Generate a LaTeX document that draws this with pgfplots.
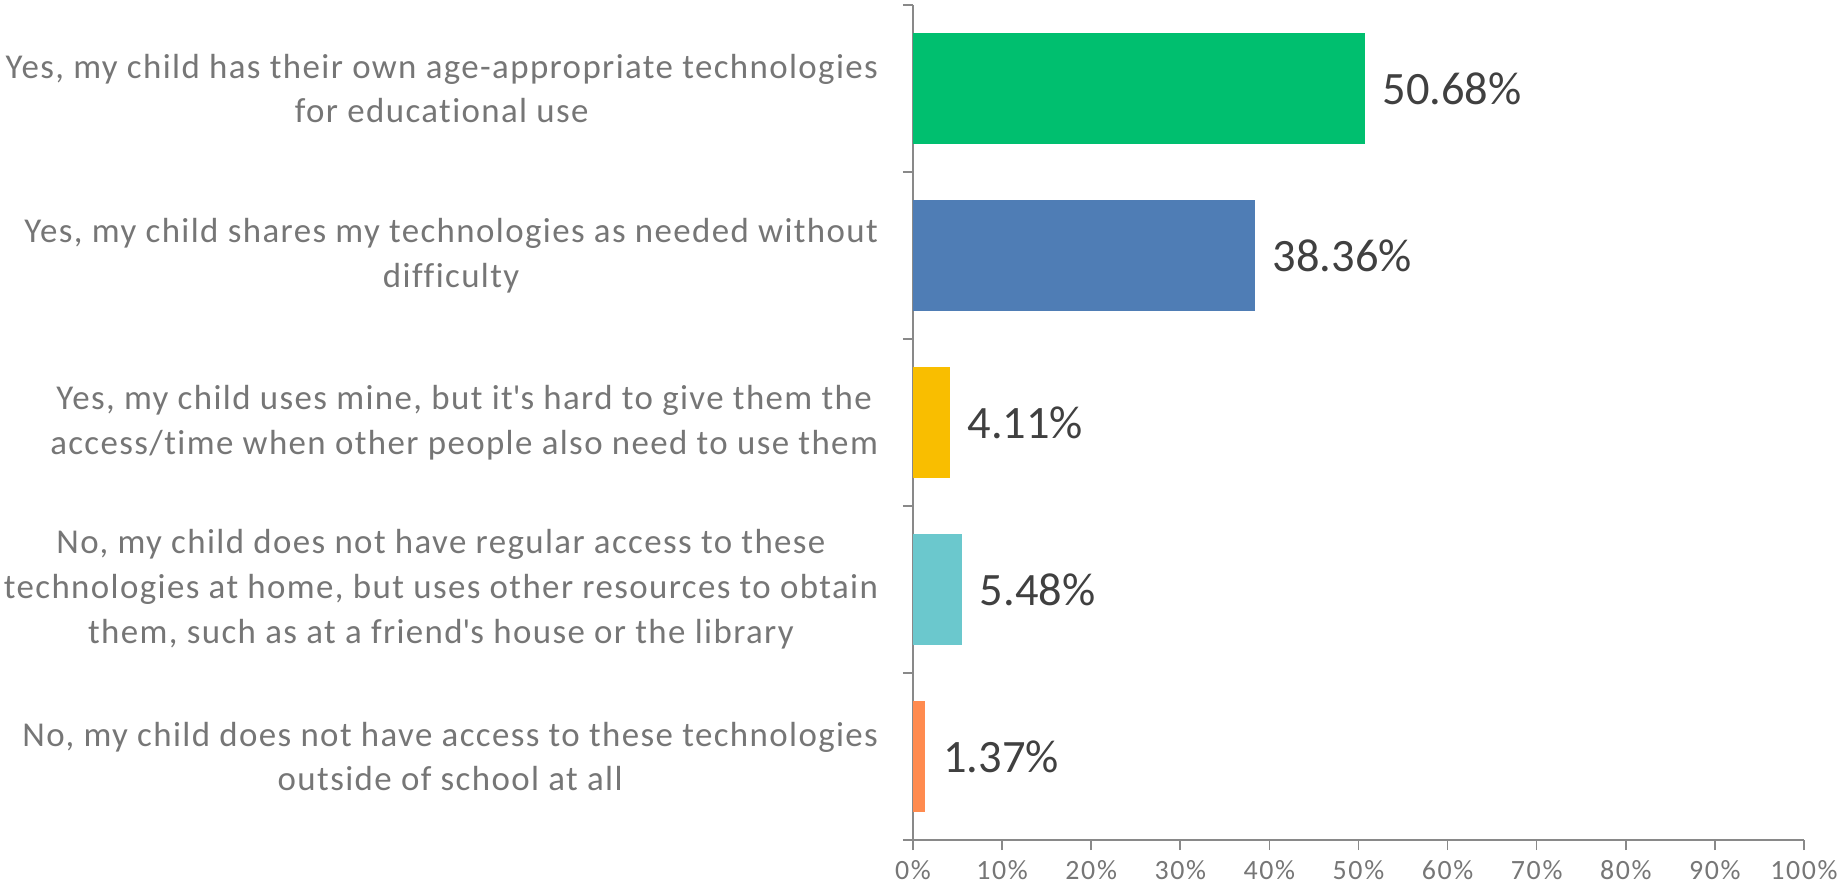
\documentclass[border=0pt]{standalone}
\usepackage{pgfplots}
\pgfplotsset{compat=1.18}
\usepackage{fontspec}
\setmainfont{Carlito}[Ligatures={NoCommon}]
\newfontfamily\catfont{Carlito}[Ligatures={NoCommon}, LetterSpace=4]
\newfontfamily\tickfont{Carlito}[Ligatures={NoCommon}, LetterSpace=6]
\definecolor{c1}{RGB}{0,191,111}
\definecolor{c2}{RGB}{79,125,181}
\definecolor{c3}{RGB}{249,190,0}
\definecolor{c4}{RGB}{107,200,205}
\definecolor{c5}{RGB}{255,139,79}
\definecolor{axgray}{RGB}{137,137,137}
\definecolor{labgray}{RGB}{118,118,118}
\definecolor{valgray}{RGB}{64,64,64}

\begin{document}
\begin{tikzpicture}
\begin{axis}[
    scale only axis,
    width=445.5bp, height=417.5bp,
    xbar, bar width=0.67, bar shift=0pt,
    xmin=0, xmax=100,
    ymin=-0.5, ymax=4.5, y dir=reverse,
    axis x line*=bottom, axis y line*=left,
    axis line style={draw=axgray, line width=0.8bp},
    tick style={draw=axgray, line width=0.8bp},
    tick align=outside,
    major tick length=5bp,
    xtick={0,10,...,100},
    xticklabels={0\%,10\%,20\%,30\%,40\%,50\%,60\%,70\%,80\%,90\%,100\%},
    xticklabel style={font=\tickfont\fontsize{14}{16}\selectfont, text=labgray, yshift=-1.5bp},
    ytick={-0.5,0.5,...,4.5},
    yticklabels={},
    extra y ticks={0,1,2,3,4},
    extra y tick labels={
        {Yes, my child has their own age-appropriate technologies\\for educational use},
        {Yes, my child shares my technologies as needed without\\difficulty},
        {Yes, my child uses mine, but it\textquotesingle s hard to give them the\\access/time when other people also need to use them},
        {No, my child does not have regular access to these\\technologies at home, but uses other resources to obtain\\them, such as at a friend\textquotesingle s house or the library},
        {No, my child does not have access to these technologies\\outside of school at all}},
    extra y tick style={major tick length=0pt,
        yticklabel style={align=center, anchor=east, xshift=-14bp,
            font=\catfont\fontsize{17.5}{22.5}\selectfont, text=labgray}},
    point meta=x,
    nodes near coords={\pgfmathprintnumber[fixed,fixed zerofill,precision=2,assume math mode=true]{\pgfplotspointmeta}\%},
    nodes near coords style={font=\fontsize{23.3}{26}\selectfont, text=valgray, anchor=west, xshift=5.5bp},
]
\addplot[draw=none, fill=c1] coordinates {(50.68,0)};
\addplot[draw=none, fill=c2] coordinates {(38.36,1)};
\addplot[draw=none, fill=c3] coordinates {(4.11,2)};
\addplot[draw=none, fill=c4] coordinates {(5.48,3)};
\addplot[draw=none, fill=c5] coordinates {(1.37,4)};
\end{axis}
\pgfresetboundingbox
\path (current axis.south west) ++(-456.5bp,-23.5bp) rectangle ++(923.5bp,443.5bp);
\end{tikzpicture}
\end{document}
